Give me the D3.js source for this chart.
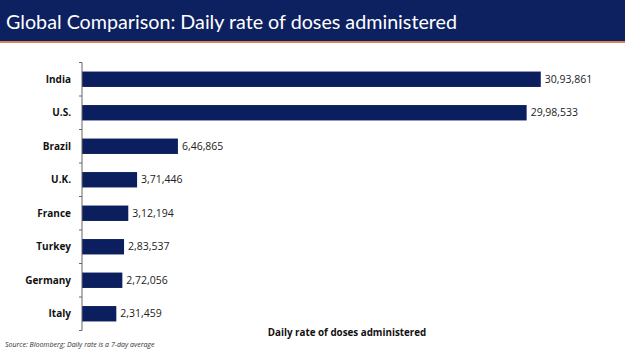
<!DOCTYPE html>
<html>
<head>
<meta charset="utf-8">
<script src="https://cdn.jsdelivr.net/npm/d3@7"></script>
<style>
  body { margin: 0; background: #fff; }
  svg { display: block; }
</style>
</head>
<body>
<div id="chart"></div>
<script>
// Values
const countries = ["India", "U.S.", "Brazil", "U.K.", "France", "Turkey", "Germany", "Italy"];
const doses = [3093861, 2998533, 646865, 371446, 312194, 283537, 272056, 231459];
const doseLabels = ["30,93,861", "29,98,533", "6,46,865", "3,71,446", "3,12,194", "2,83,537", "2,72,056", "2,31,459"];

const width = 625, height = 351;
const navy = "#0b1f5e";

const svg = d3.select("#chart")
  .append("svg")
  .attr("width", width)
  .attr("height", height);

// Header band
svg.append("rect")
  .attr("x", 0).attr("y", 0)
  .attr("width", width).attr("height", 41)
  .attr("fill", "#0d2160");

svg.append("rect")
  .attr("x", 0).attr("y", 41)
  .attr("width", width).attr("height", 2)
  .attr("fill", "#d9844e");

svg.append("text")
  .attr("x", 6)
  .attr("y", 29)
  .attr("fill", "#fff")
  .style("font-family", "Lato, 'Open Sans', sans-serif")
  .style("font-size", "20px")
  .attr("textLength", 451)
  .attr("lengthAdjust", "spacingAndGlyphs")
  .text("Global Comparison: Daily rate of doses administered");

// Scales
const x = d3.scaleLinear().domain([0, 3500000]).range([82, 601]);
const y = d3.scaleBand().domain(countries).range([62.5, 330.5]).paddingInner(0.54).paddingOuter(0.27);

// Bars
svg.selectAll(".bar")
  .data(countries)
  .enter()
  .append("rect")
  .attr("class", "bar")
  .attr("x", x(0))
  .attr("y", d => y(d))
  .attr("width", (d, i) => x(doses[i]) - x(0))
  .attr("height", y.bandwidth())
  .attr("fill", navy);

// Value labels
svg.selectAll(".val")
  .data(countries)
  .enter()
  .append("text")
  .attr("class", "val")
  .attr("x", (d, i) => x(doses[i]) + 4)
  .attr("y", d => y(d) + y.bandwidth() / 2)
  .attr("dy", "0.35em")
  .attr("fill", "#222")
  .style("font-family", "'Open Sans', sans-serif")
  .style("font-size", "10.5px")
  .text((d, i) => doseLabels[i]);

// Category axis with ticks on band boundaries
const axisG = svg.append("g").attr("transform", "translate(82,0)");
axisG.append("line")
  .attr("x1", 0).attr("x2", 0)
  .attr("y1", 62.5).attr("y2", 330.5)
  .attr("stroke", "#666").attr("stroke-width", 1);

const step = 268 / countries.length;
d3.range(countries.length + 1).forEach(i => {
  axisG.append("line")
    .attr("x1", -3).attr("x2", 0)
    .attr("y1", 62.5 + i * step).attr("y2", 62.5 + i * step)
    .attr("stroke", "#666");
});

svg.selectAll(".cat")
  .data(countries)
  .enter()
  .append("text")
  .attr("class", "cat")
  .attr("x", 71)
  .attr("y", d => y(d) + y.bandwidth() / 2)
  .attr("dy", "0.35em")
  .attr("text-anchor", "end")
  .attr("fill", "#111")
  .style("font-family", "'Open Sans', sans-serif")
  .style("font-weight", "bold")
  .style("font-size", "10px")
  .text(d => d);

// Axis title
svg.append("text")
  .attr("x", 347)
  .attr("y", 336)
  .attr("text-anchor", "middle")
  .attr("fill", "#111")
  .style("font-family", "'Open Sans', sans-serif")
  .style("font-weight", "bold")
  .style("font-size", "9.8px")
  .text("Daily rate of doses administered");

// Source note
svg.append("text")
  .attr("x", 5)
  .attr("y", 347)
  .attr("fill", "#333")
  .style("font-family", "'Open Sans', sans-serif")
  .style("font-style", "italic")
  .style("font-size", "7px")
  .text("Source: Bloomberg; Daily rate is a 7-day average");
</script>
</body>
</html>
